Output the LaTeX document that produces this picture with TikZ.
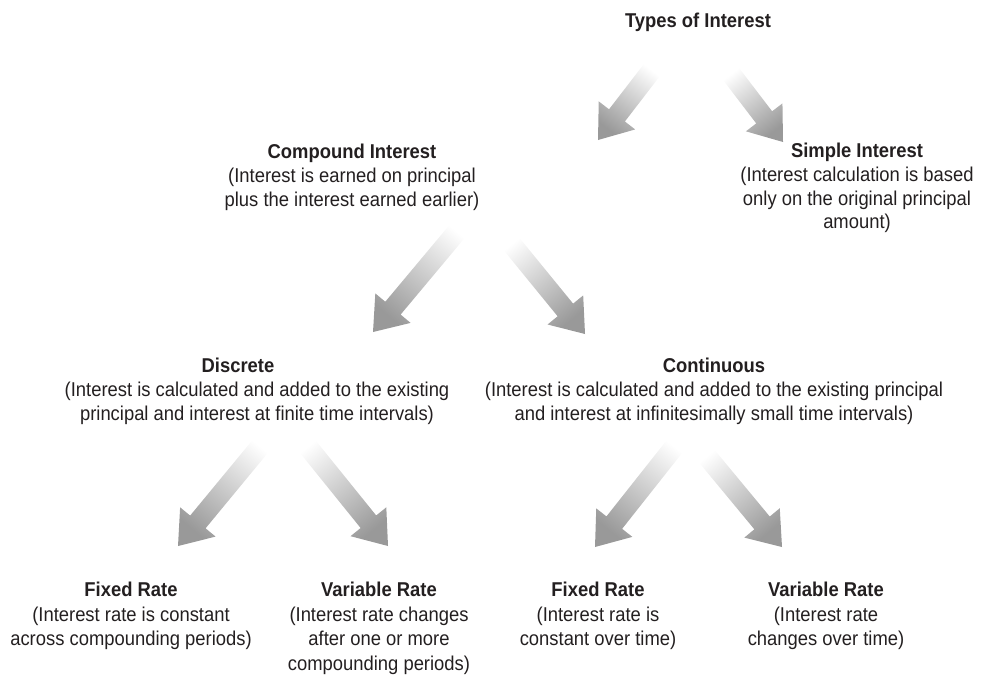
\documentclass[tikz,border=0pt]{standalone}
\usepackage{fontspec}
\setmainfont{Liberation Sans}[FakeStretch=0.92]
\usetikzlibrary{calc}
\definecolor{txt}{HTML}{231F20}
\def\fw{7.5pt}
\def\fh{17.25pt}
\def\fhl{23.25}
\newcommand\fatarrow[2]{%
  \pgfpointdiff{\pgfpointanchor{#1}{center}}{\pgfpointanchor{#2}{center}}%
  \pgfgetlastxy\fdx\fdy
  \pgfmathsetmacro\fang{atan2(\fdy,\fdx)}%
  \pgfmathsetmacro\flen{veclen(\fdx,\fdy)}%
  \pgfmathsetmacro\fneck{\flen-\fhl}%
  \shade[fatarrowstyle, shading angle=\fang-90]
    ($(#1)+(\fang+90:\fw)$) --
    ($(#1)+(\fang:\fneck pt)+(\fang+90:\fw)$) --
    ($(#1)+(\fang:\fneck pt)+(\fang+90:\fh)$) --
    (#2) --
    ($(#1)+(\fang:\fneck pt)+(\fang-90:\fh)$) --
    ($(#1)+(\fang:\fneck pt)+(\fang-90:\fw)$) --
    ($(#1)+(\fang-90:\fw)$) -- cycle;
}
\tikzset{
  fatarrowstyle/.style={top color=black!40, bottom color=white, draw=none},
  box/.style={anchor=north, align=center, inner sep=0pt, text=txt,
    font=\fontsize{15}{17.8}\selectfont},
  lowbox/.style={box, font=\fontsize{15}{18.4}\selectfont},
}
\begin{document}
\begin{tikzpicture}[x=0.75pt,y=-0.75pt]
\useasboundingbox (0,0) rectangle (984,675);
% nodes (anchor north ~ cap top of title line)
\node[box] (types) at (698,12.5) {\textbf{Types of Interest}};
\node[box] (comp) at (352,144) {\textbf{Compound Interest}\\(Interest is earned on principal\\plus the interest earned earlier)};
\node[box] (simple) at (857,143) {\textbf{Simple Interest}\\(Interest calculation is based\\only on the original principal\\amount)};
\node[box] (disc) at (257,358) {\hspace*{-28.5pt}\textbf{Discrete}\\(Interest is calculated and added to the existing\\principal and interest at finite time intervals)};
\node[box] (cont) at (714,358) {\textbf{Continuous}\\(Interest is calculated and added to the existing principal\\and interest at infinitesimally small time intervals)};
\node[lowbox] (fixa) at (131,582) {\textbf{Fixed Rate}\\(Interest rate is constant\\across compounding periods)};
\node[lowbox] (vara) at (379,582) {\textbf{Variable Rate}\\(Interest rate changes\\after one or more\\compounding periods)};
\node[lowbox] (fixb) at (598,582) {\textbf{Fixed Rate}\\(Interest rate is\\constant over time)};
\node[lowbox] (varb) at (826,582) {\textbf{Variable Rate}\\(Interest rate\\changes over time)};
% arrow end points
\coordinate (t1) at (655,66);  \coordinate (h1) at (598,140);
\coordinate (t2) at (728,70);  \coordinate (h2) at (783,142);
\coordinate (t3) at (465,222); \coordinate (h3) at (373,332);
\coordinate (t4) at (505,236); \coordinate (h4) at (585,334);
\coordinate (t5) at (268,437); \coordinate (h5) at (178,546);
\coordinate (t6) at (300,437); \coordinate (h6) at (388,546);
\coordinate (t7) at (682,437); \coordinate (h7) at (595,547);
\coordinate (t8) at (700,448); \coordinate (h8) at (782,547);
\fatarrow{t1}{h1}
\fatarrow{t2}{h2}
\fatarrow{t3}{h3}
\fatarrow{t4}{h4}
\fatarrow{t5}{h5}
\fatarrow{t6}{h6}
\fatarrow{t7}{h7}
\fatarrow{t8}{h8}
\end{tikzpicture}
\end{document}
